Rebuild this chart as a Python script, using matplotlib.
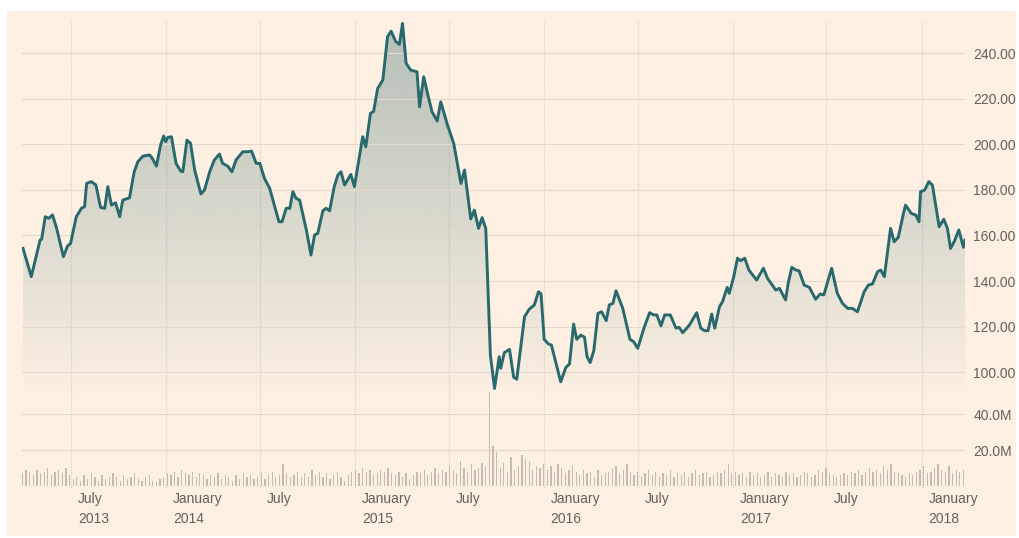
import numpy as np
import pandas as pd
import matplotlib
matplotlib.use('Agg')
import matplotlib.pyplot as plt
import matplotlib.dates as mdates
from matplotlib.colors import to_rgb
from matplotlib.patches import Rectangle
from matplotlib.transforms import ScaledTranslation

# --- data ---
price_dates = [
    '2013-03-30', '2013-04-15', '2013-05-02', '2013-05-05', '2013-05-12', '2013-05-19', '2013-05-26',
    '2013-06-03', '2013-06-16', '2013-06-24', '2013-06-30', '2013-07-11', '2013-07-21', '2013-07-27',
    '2013-07-31', '2013-08-09', '2013-08-18', '2013-08-27', '2013-09-04', '2013-09-10', '2013-09-17',
    '2013-09-25', '2013-10-03', '2013-10-09', '2013-10-22', '2013-10-31', '2013-11-07', '2013-11-17',
    '2013-11-30', '2013-12-05', '2013-12-13', '2013-12-21', '2013-12-27', '2013-12-31', '2014-01-04',
    '2014-01-11', '2014-01-20', '2014-01-29', '2014-02-02', '2014-02-10', '2014-02-17', '2014-02-25',
    '2014-03-09', '2014-03-16', '2014-03-26', '2014-04-04', '2014-04-14', '2014-04-20', '2014-04-30',
    '2014-05-08', '2014-05-16', '2014-05-29', '2014-06-08', '2014-06-15', '2014-06-24', '2014-07-01',
    '2014-07-10', '2014-07-20', '2014-07-29', '2014-08-07', '2014-08-13', '2014-08-21', '2014-08-28',
    '2014-09-03', '2014-09-09', '2014-09-16', '2014-09-29', '2014-10-08', '2014-10-15', '2014-10-21',
    '2014-10-31', '2014-11-06', '2014-11-13', '2014-11-22', '2014-11-29', '2014-12-05', '2014-12-12',
    '2014-12-24', '2014-12-31', '2015-01-16', '2015-01-22', '2015-01-31', '2015-02-06', '2015-02-14',
    '2015-02-24', '2015-03-05', '2015-03-12', '2015-03-21', '2015-03-28', '2015-04-03', '2015-04-10',
    '2015-04-19', '2015-05-01', '2015-05-06', '2015-05-14', '2015-05-22', '2015-05-30', '2015-06-09',
    '2015-06-16', '2015-06-29', '2015-07-11', '2015-07-25', '2015-08-01', '2015-08-13', '2015-08-20',
    '2015-08-28', '2015-09-04', '2015-09-11', '2015-09-20', '2015-09-28', '2015-10-07', '2015-10-10',
    '2015-10-17', '2015-10-27', '2015-11-04', '2015-11-10', '2015-11-25', '2015-12-04', '2015-12-14',
    '2015-12-22', '2015-12-27', '2016-01-02', '2016-01-10', '2016-01-16', '2016-02-03', '2016-02-13',
    '2016-02-20', '2016-02-28', '2016-03-05', '2016-03-13', '2016-03-20', '2016-03-25', '2016-03-31',
    '2016-04-07', '2016-04-15', '2016-04-22', '2016-05-01', '2016-05-07', '2016-05-14', '2016-05-20',
    '2016-06-02', '2016-06-16', '2016-06-23', '2016-07-01', '2016-07-14', '2016-07-24', '2016-08-01',
    '2016-08-07', '2016-08-15', '2016-08-22', '2016-09-02', '2016-09-13', '2016-09-19', '2016-09-26',
    '2016-10-09', '2016-10-23', '2016-10-31', '2016-11-07', '2016-11-14', '2016-11-21', '2016-11-27',
    '2016-12-06', '2016-12-12', '2016-12-21', '2016-12-25', '2017-01-02', '2017-01-10', '2017-01-16',
    '2017-01-24', '2017-02-01', '2017-02-16', '2017-03-01', '2017-03-09', '2017-03-25', '2017-04-01',
    '2017-04-13', '2017-04-18', '2017-04-25', '2017-05-03', '2017-05-09', '2017-05-19', '2017-05-29',
    '2017-06-10', '2017-06-19', '2017-06-26', '2017-07-11', '2017-07-22', '2017-08-01', '2017-08-11',
    '2017-08-20', '2017-08-30', '2017-09-12', '2017-09-20', '2017-09-28', '2017-10-08', '2017-10-14',
    '2017-10-21', '2017-11-02', '2017-11-09', '2017-11-17', '2017-11-27', '2017-12-01', '2017-12-12',
    '2017-12-21', '2017-12-27', '2017-12-30', '2018-01-07', '2018-01-15', '2018-01-22', '2018-02-04',
    '2018-02-13', '2018-02-20', '2018-02-26', '2018-03-05', '2018-03-14', '2018-03-23', '2018-03-26',
]
prices = [
    154.3, 141.9, 158.0, 158.3, 168.2, 167.5, 169.0,
    163.1, 150.7, 155.3, 156.5, 168.2, 171.9, 172.6,
    182.8, 183.6, 182.1, 172.3, 171.9, 181.4, 173.3,
    174.3, 168.2, 175.5, 176.5, 187.9, 192.3, 194.8,
    195.3, 193.8, 190.4, 199.6, 203.6, 201.1, 203.0,
    203.3, 191.6, 188.2, 187.9, 201.8, 200.4, 188.7,
    178.2, 179.9, 187.9, 193.1, 195.7, 191.6, 190.4,
    187.9, 193.1, 196.7, 196.7, 197.0, 191.6, 191.6,
    185.0, 180.7, 173.3, 166.0, 166.0, 171.9, 171.9,
    179.2, 176.3, 175.5, 162.4, 151.4, 160.2, 160.9,
    170.8, 171.9, 170.8, 181.4, 186.5, 187.9, 182.1,
    186.8, 181.4, 203.3, 198.9, 213.6, 214.3, 224.5,
    228.2, 247.2, 249.6, 245.0, 243.8, 253.0, 235.5,
    232.5, 231.8, 216.4, 229.6, 221.6, 214.3, 210.2,
    218.6, 208.4, 200.4, 182.8, 188.7, 167.2, 171.1,
    163.1, 167.8, 163.1, 107.5, 92.9, 106.8, 101.7,
    108.6, 110.0, 97.8, 96.9, 124.3, 127.6, 129.5,
    135.3, 134.3, 114.4, 112.4, 111.9, 95.8, 102.1,
    103.6, 121.1, 114.4, 116.3, 115.3, 106.8, 104.2,
    109.4, 125.8, 126.5, 122.6, 129.5, 130.2, 135.7,
    128.0, 114.4, 113.4, 110.5, 120.0, 126.1, 125.1,
    125.1, 120.3, 125.1, 125.1, 119.3, 119.7, 117.3,
    120.7, 126.1, 119.3, 118.2, 118.2, 125.5, 119.3,
    128.7, 130.9, 137.2, 134.6, 141.2, 150.0, 148.9,
    150.0, 144.8, 140.4, 145.6, 141.2, 136.0, 136.8,
    131.7, 139.0, 146.0, 144.8, 144.5, 138.2, 137.2,
    132.0, 134.3, 133.9, 145.6, 134.6, 130.2, 128.0,
    128.0, 126.5, 135.3, 138.2, 138.7, 144.1, 144.8,
    141.9, 163.1, 157.2, 159.2, 169.7, 173.3, 169.7,
    168.9, 166.0, 179.2, 179.9, 183.6, 182.1, 163.8,
    167.1, 163.1, 154.3, 157.2, 162.4, 154.8, 158.0,
]

# weekly volume, millions of shares (first bar on volume_start)
volume_start = '2013-03-29'
volumes_m = [
    7, 9, 8, 6, 9, 7, 8, 10, 6, 8, 9, 7, 10,
    6, 4, 5, 3, 6, 4, 7, 5, 3, 6, 4, 5, 7,
    5, 3, 6, 4, 5, 7, 4, 3, 5, 6, 3, 2, 4,
    5, 7, 6, 8, 5, 9, 7, 6, 8, 5, 7, 6, 4,
    6, 5, 7, 4, 6, 5, 3, 6, 4, 7, 5, 6, 4,
    5, 7, 4, 6, 8, 5, 6, 12, 7, 5, 6, 8, 5,
    7, 5, 9, 6, 8, 5, 7, 4, 6, 8, 5, 3, 6,
    8, 9, 7, 10, 8, 9, 6, 7, 9, 8, 10, 7, 6,
    8, 5, 7, 4, 6, 8, 7, 9, 6, 8, 10, 7, 9,
    8, 11, 9, 7, 14, 10, 8, 12, 9, 10, 13, 11, 52,
    22, 19, 10, 13, 8, 16, 9, 11, 17, 15, 14, 9, 11,
    10, 12, 9, 11, 8, 12, 10, 7, 9, 11, 8, 6, 9,
    7, 8, 5, 9, 6, 7, 8, 10, 11, 7, 9, 12, 8,
    6, 8, 5, 7, 9, 6, 8, 5, 7, 6, 9, 5, 7,
    6, 8, 5, 7, 9, 6, 7, 8, 5, 6, 8, 7, 9,
    12, 7, 8, 6, 7, 5, 8, 6, 7, 5, 6, 8, 5,
    7, 6, 5, 8, 6, 7, 5, 6, 8, 7, 5, 6, 9,
    8, 10, 7, 6, 5, 6, 7, 6, 8, 7, 9, 6, 8,
    10, 8, 9, 7, 11, 9, 12, 8, 7, 6, 5, 7, 6,
    8, 9, 11, 7, 8, 10, 12, 9, 8, 11, 7, 9, 8,
    9,
]

tick_dates = ['2013-07-01', '2014-01-01', '2014-07-01', '2015-01-01', '2015-07-01',
              '2016-01-01', '2016-07-01', '2017-01-01', '2017-07-01', '2018-01-01']
tick_labels = ['July\n2013', 'January\n2014', 'July', 'January\n2015', 'July',
               'January\n2016', 'July', 'January\n2017', 'July', 'January\n2018']
price_ticks = [100, 120, 140, 160, 180, 200, 220, 240]
volume_ticks = [20, 40]

# --- styling ---
BG = '#fdf0e3'
LINE = '#28696d'
FILL = '#3c6e6e'
GRID = '#e6dacf'
VGRID = '#dbd1c7'
TEXT = '#66605b'
BAR = '#c6bbb1'
plt.rcParams['font.family'] = ['Liberation Sans', 'DejaVu Sans']

W, H = 1020, 538
x_start, x_end = mdates.date2num(pd.Timestamp('2013-03-28')), mdates.date2num(pd.Timestamp('2018-03-26'))
px = mdates.date2num(pd.to_datetime(price_dates))
py = np.array(prices)
vx = mdates.date2num(pd.date_range(volume_start, periods=len(volumes_m), freq='7D'))

fig = plt.figure(figsize=(W / 100, H / 100), dpi=100, facecolor='white')
# peach "paper" panel
fig.add_artist(Rectangle((7 / W, 1 - 536 / H), 1009 / W, 525 / H, transform=fig.transFigure,
                         facecolor=BG, edgecolor='none', zorder=-10))

left, width = 22 / W, 943 / W

# background axes: vertical date grid + x labels
ax_bg = fig.add_axes([left, 1 - 490 / H, width, 470 / H])
ax_bg.set_facecolor('none')
ax_bg.set_xlim(x_start, x_end)
ax_bg.set_ylim(0, 1)
ax_bg.set_yticks([])
for s in ax_bg.spines.values():
    s.set_visible(False)
ax_bg.set_xticks(mdates.date2num(pd.to_datetime(tick_dates)))
ax_bg.set_xticklabels(tick_labels, ha='left', va='top', linespacing=1.5)
ax_bg.tick_params(axis='x', length=0, pad=1.5, labelsize=10, labelcolor=TEXT)
ax_bg.grid(axis='x', color=VGRID, linewidth=0.9, linestyle=(0, (1, 1)))
offset = ScaledTranslation(0.07, 0, fig.dpi_scale_trans)
for lab in ax_bg.get_xticklabels():
    lab.set_transform(lab.get_transform() + offset)

# price panel
ax = fig.add_axes([left, 1 - 400 / H, width, 380 / H])
ax.set_facecolor('none')
y_lo, y_hi = 87.8, 254.5

# gradient fill under the line, fading out towards the bottom
alpha = np.linspace(0.38, 0.0, 256)
img = np.zeros((256, 1, 4))
img[..., :3] = to_rgb(FILL)
img[..., 3] = alpha[:, None]
im = ax.imshow(img, aspect='auto', extent=[x_start, x_end, y_lo, y_hi], origin='upper', zorder=1)
poly = ax.fill_between(px, py, y_lo, facecolor='none', edgecolor='none')
im.set_clip_path(poly.get_paths()[0], transform=ax.transData)

ax.plot(px, py, color=LINE, linewidth=2.1, solid_joinstyle='round', zorder=3)

ax.set_xlim(x_start, x_end)
ax.set_ylim(y_lo, y_hi)
ax.set_xticks([])
ax.yaxis.tick_right()
ax.set_yticks(price_ticks)
ax.set_yticklabels([f'{v:.2f}' for v in price_ticks])
ax.tick_params(axis='y', length=0, pad=6, labelsize=10, labelcolor=TEXT)
ax.grid(axis='y', color=GRID, linewidth=0.8)
for s in ax.spines.values():
    s.set_visible(False)

# volume panel
ax_v = fig.add_axes([left, 1 - 490 / H, width, 110 / H])
ax_v.set_facecolor('none')
ax_v.bar(vx, volumes_m, width=2.5, color=BAR, zorder=2)
ax_v.set_xlim(x_start, x_end)
ax_v.set_ylim(-2.2, 58.9)
ax_v.set_xticks([])
ax_v.yaxis.tick_right()
ax_v.set_yticks(volume_ticks)
ax_v.set_yticklabels([f'{v:.1f}M' for v in volume_ticks])
ax_v.tick_params(axis='y', length=0, pad=6, labelsize=10, labelcolor=TEXT)
ax_v.grid(axis='y', color=GRID, linewidth=0.8)
for s in ax_v.spines.values():
    s.set_visible(False)

fig.savefig('out.png', dpi=100, facecolor=fig.get_facecolor())
